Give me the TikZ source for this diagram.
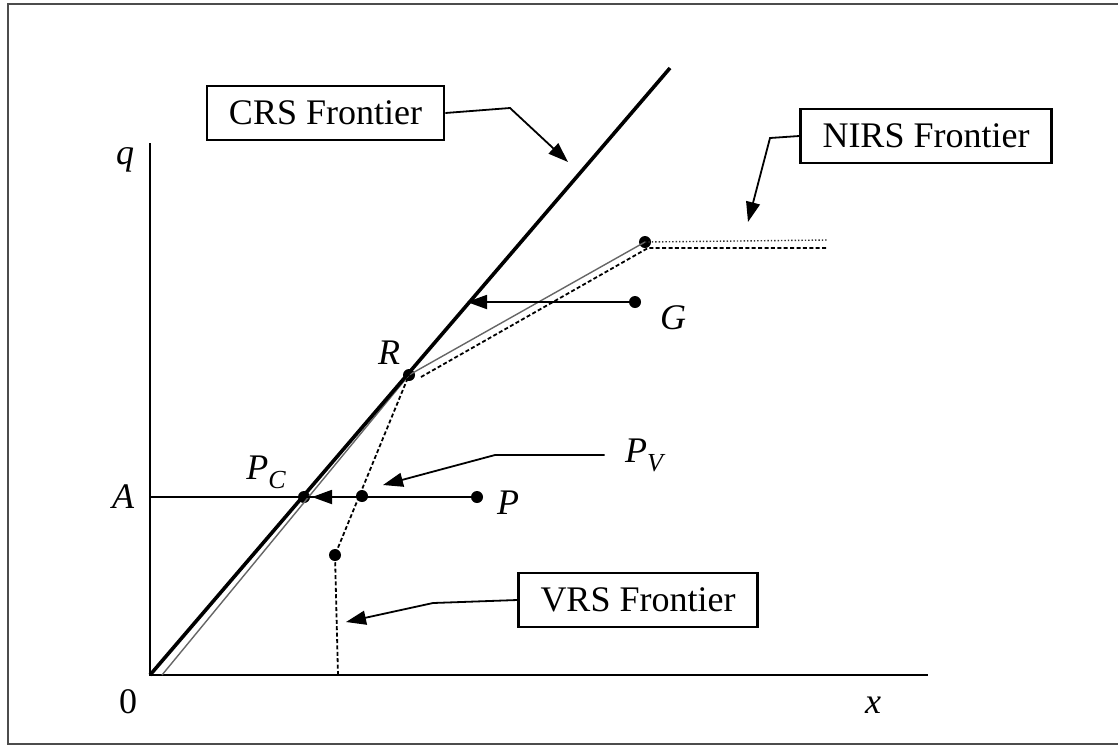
\documentclass[tikz,border=0pt]{standalone}
\usepackage{fontspec}
\setmainfont{Liberation Serif}
\usepackage{tikz}
\usetikzlibrary{arrows.meta, positioning}
\tikzset{
  label box/.style={rectangle, draw, line width=1.3pt, inner xsep=11pt, minimum height=27pt, font=\fontsize{18}{20}\selectfont},
  lab/.style={font=\fontsize{18}{20}\selectfont\itshape, inner sep=1pt},
  pt/.style={circle, fill, inner sep=0pt, minimum size=6pt},
  axis/.style={line width=1.2pt},
  crs/.style={line width=1.8pt},
  nirs/.style={line width=0.7pt, black!60},
  vrs/.style={line width=0.9pt, dash pattern=on 2pt off 1.2pt},
  line/.style={line width=0.9pt, -{Triangle[length=10pt,width=7pt]}}
}
\newcommand{\subC}[1]{\textit{P}\raisebox{-0.55ex}{\fontsize{13}{13}\selectfont\itshape #1}}

\begin{document}
\begin{tikzpicture}[x=0.5pt, y=-0.5pt]
    \useasboundingbox (0,0) rectangle (1118,746);
    \draw[line width=1.3pt, black!70] (1118,4) -- (8,4) -- (8,744) -- (1118,744);
    \coordinate (O) at (150,675);
    \coordinate (qtop) at (150,143);
    \coordinate (xend) at (928,675);
    \coordinate (crsend) at (670,68);
    \coordinate (Aax) at (150,497);
    \node[pt] (R) at (409,375) {};
    \node[pt] (PC) at (304,497) {};
    \node[pt] (PV) at (362,496) {};
    \node[pt] (P) at (477,497) {};
    \node[pt] (G) at (635,302) {};
    \node[pt] (N) at (645,242) {};
    \node[pt] (V) at (335,555) {};
    \node[lab] (q) at (125,160) {q};
    \node[lab] (A) at (123,497) {A};
    \node[lab, font=\fontsize{18}{20}\selectfont] (zero) at (128,702) {0};
    \node[lab] (x) at (873,705) {x};
    \node[lab] (Rl) at (389,353) {R};
    \node[lab] (Gl) at (673,318) {G};
    \node[lab] (Pl) at (508,503) {P};
    \node[lab] (PCl) at (266,472) {\subC{C}};
    \node[lab] (PVl) at (644,455) {\subC{V}};
    \node[label box] (crs) at (325.5,113) {CRS Frontier};
    \node[label box] (nirs) at (926,136) {NIRS Frontier};
    \node[label box] (vrs) at (638,600) {VRS Frontier};
    \draw[axis] (qtop) -- (O) -- (xend);
    \draw[nirs] (162,675) -- (R.center) -- (N.center);
    \draw[nirs, densely dotted, black!80] (N.center) -- (828,240);
    \draw[vrs] (338,675) -- (V.center) -- (R.center);
    \draw[vrs] (421,377) -- (648,248) -- (828,248);
    \draw[crs] (O) -- (crsend);
    \draw[axis] (Aax) -- (P);
    \coordinate (tipPC) at (312,497);
    \coordinate (tipG) at (467,302);
    \draw[line] (P) -- (tipPC);
    \draw[line] (G) -- (tipG);
    \coordinate (tipCRS) at (568,162);
    \coordinate (tipNIRS) at (748,222);
    \coordinate (tipPV) at (383,485);
    \coordinate (tipVRS) at (346,622);
    \draw[line] (crs.east) -- (510,108) -- (tipCRS);
    \draw[line] (nirs.west) -- (770,138) -- (tipNIRS);
    \draw[line, shorten <=9pt] (PVl.west) -- (495,455) -- (tipPV);
    \draw[line] (vrs.west) -- (433,603) -- (tipVRS);
  \end{tikzpicture}
\end{document}
